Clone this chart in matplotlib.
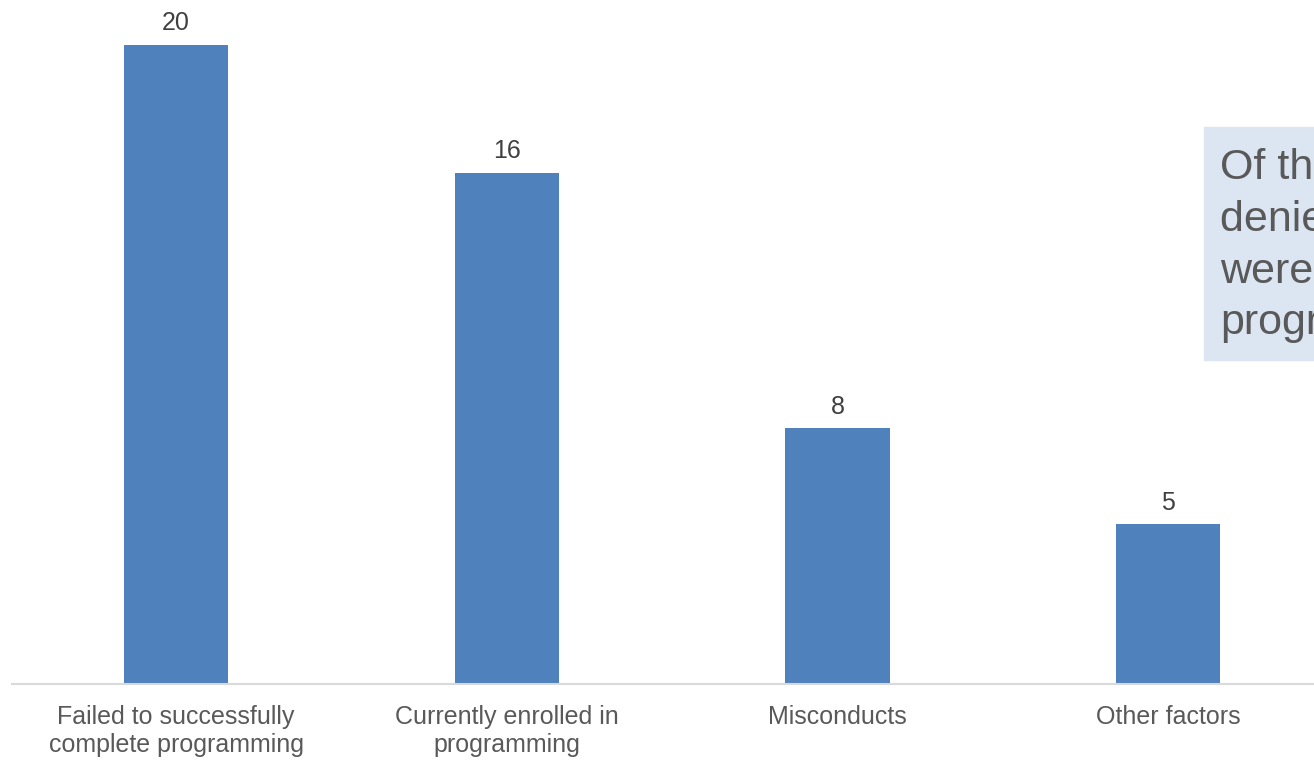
import matplotlib.pyplot as plt
from matplotlib.patches import Rectangle

# Reasons for denial
categories = ['Failed to successfully\ncomplete programming',
              'Currently enrolled in\nprogramming',
              'Misconducts',
              'Other factors']
counts = [20, 16, 8, 5]

callout = 'Of those\ndenied, most\nwere still in\nprogramming'

plt.rcParams['font.family'] = ['Liberation Sans', 'DejaVu Sans']

W, H = 1314, 761
fig = plt.figure(figsize=(W / 100, H / 100), dpi=100)

# axes placed so that the baseline sits at y=684 px and spans from x=12 px
ax = fig.add_axes([12 / W, 1 - 684 / H, 1 - 12 / W, 655 / H])
x = range(len(categories))
bars = ax.bar(x, counts, width=0.315, color='#4f81bd')
ax.set_xlim(-0.496, 3.441)
ax.set_ylim(0, 20.5)

for b, v in zip(bars, counts):
    ax.annotate(str(v), (b.get_x() + b.get_width() / 2, v),
                xytext=(0, 7), textcoords='offset points',
                ha='center', va='bottom', fontsize=18, color='#404040',
                annotation_clip=False)

ax.set_xticks(list(x))
ax.set_xticklabels(categories, fontsize=18, color='#595959', linespacing=1.22)
ax.tick_params(axis='x', length=0, pad=15)
ax.set_yticks([])
for s in ['top', 'right', 'left']:
    ax.spines[s].set_visible(False)
ax.spines['bottom'].set_color('#d9d9d9')
ax.spines['bottom'].set_linewidth(1.5)

# call-out box that runs off the right edge
fig.patches.append(Rectangle((1204 / W, 1 - 360 / H), 0.3, 233 / H,
                             transform=fig.transFigure, color='#dce6f2',
                             zorder=0))
fig.text(1220 / W, 1 - 148 / H, callout, fontsize=31, color='#595959',
         va='top', ha='left', linespacing=1.38)

fig.savefig('out.png', dpi=100)
